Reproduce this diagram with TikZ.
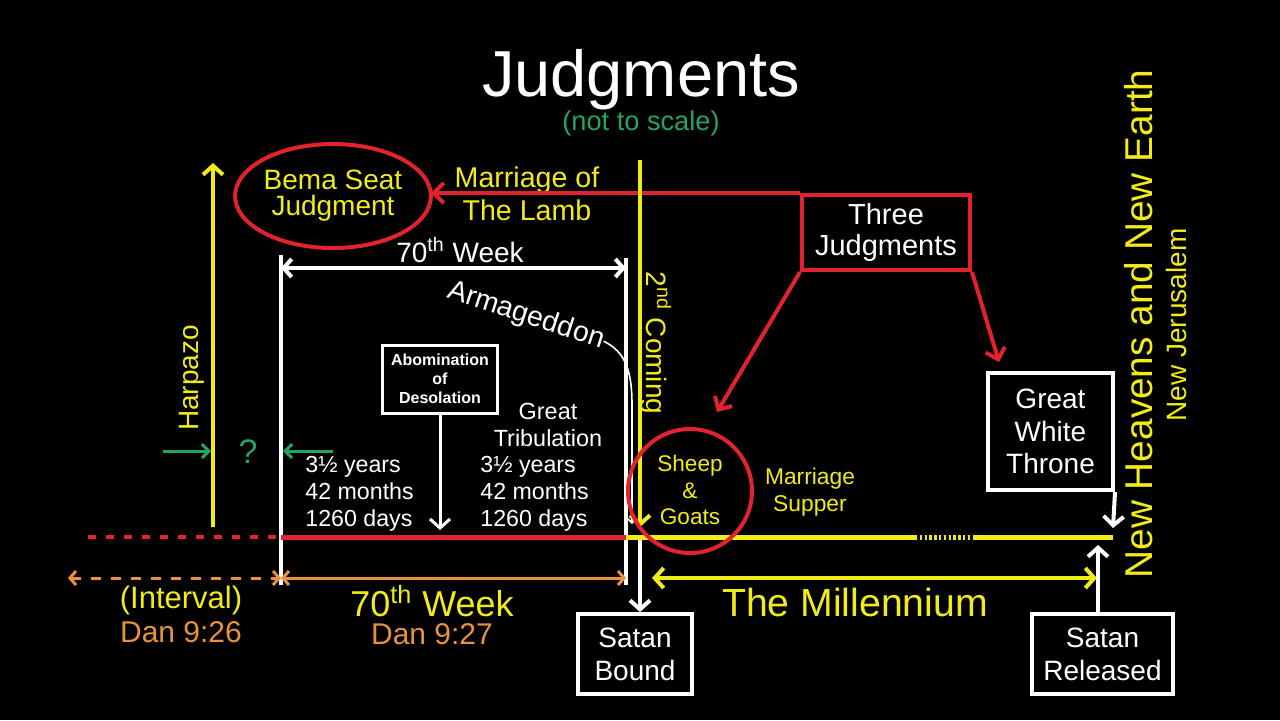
\documentclass[tikz,border=0pt]{standalone}
\usepackage{fontspec}
\setmainfont{Liberation Sans}
\usetikzlibrary{arrows.meta,shapes.geometric}
\definecolor{Yc}{RGB}{242,236,22}
\definecolor{Rc}{RGB}{226,34,44}
\definecolor{Gc}{RGB}{34,165,95}
\definecolor{Oc}{RGB}{232,145,62}
\newcommand\setfs[2]{\fontsize{#1}{#2}\selectfont}
\begin{document}
\begin{tikzpicture}[x=0.5pt,y=-0.5pt,
  txt/.style={inner sep=0pt,align=center},
  wbox/.style={draw=white,line width=2pt,rectangle,inner sep=0pt,align=center,text=white},
  yln/.style={draw=Yc,line width=2pt},
  yarr/.style={draw=Yc,line width=2pt,-{Straight Barb[length=4.5pt,width=10pt]}},
  ydarr/.style={draw=Yc,line width=2pt,{Straight Barb[length=4.5pt,width=10pt]}-{Straight Barb[length=4.5pt,width=10pt]}},
  warr/.style={draw=white,line width=2pt,-{Straight Barb[length=4.5pt,width=10pt]}},
  wdarr/.style={draw=white,line width=2pt,{Straight Barb[length=4pt,width=9pt]}-{Straight Barb[length=4pt,width=9pt]}},
  rarr/.style={draw=Rc,line width=2pt,-{Straight Barb[length=5pt,width=10pt]}},
  garr/.style={draw=Gc,line width=1.5pt,-{Straight Barb[length=3.5pt,width=7pt]}},
  oarr/.style={draw=Oc,line width=1.5pt,{Straight Barb[length=3pt,width=7pt]}-{Straight Barb[length=3pt,width=7pt]}}
]
\fill[black] (0,0) rectangle (1280,720);
\useasboundingbox (0,0) rectangle (1280,720);

% title
\node[txt,text=white,font=\setfs{32.5}{36}] (title) at (641,80) {Judgments};
\node[txt,text=Gc,font=\setfs{13.6}{16}] (scale) at (641,123) {(not to scale)};

% coordinates
\coordinate (hzB) at (213,527);
\coordinate (hzT) at (213,163);
\coordinate (scT) at (640,160);
\coordinate (scB) at (640,527);
\coordinate (wLT) at (281,255);
\coordinate (wLB) at (281,585);
\coordinate (wRT) at (626,258);
\coordinate (wRB) at (626,585);
\coordinate (tlA) at (88,537);
\coordinate (tlB) at (281,537);
\coordinate (tlC) at (626,537);
\coordinate (tlD) at (915,537);
\coordinate (tlE) at (975,537);
\coordinate (tlF) at (1113,537);
\coordinate (oA) at (68,578);
\coordinate (oB) at (281,578);
\coordinate (oC) at (626,578);
\coordinate (mA) at (652,578);
\coordinate (mB) at (1097,578);
\coordinate (wk1) at (281,268);
\coordinate (wk2) at (626,268);
\coordinate (g1a) at (163,451);
\coordinate (g1b) at (211,451);
\coordinate (g2a) at (333,451);
\coordinate (g2b) at (283,451);
\coordinate (sgTip) at (717,412);
\coordinate (gwTip) at (999,362);
\coordinate (abTip) at (440,530);
\coordinate (bdTop) at (640,540);
\coordinate (relTip) at (1098,545);
\coordinate (gwEnd) at (1113,528);
\coordinate (armEnd) at (632,524);

% nodes
\node[ellipse,draw=Rc,line width=2pt,minimum width=88pt,minimum height=52pt,inner sep=0pt,outer sep=0pt,
      text=Yc,align=center,font=\setfs{14}{13}] (bema) at (333,196) {Bema Seat\\Judgment};
\node[rectangle,draw=Rc,line width=2pt,minimum width=84pt,minimum height=37.5pt,inner sep=0pt,
      text=white,align=center,font=\setfs{14.5}{15.5}] (tj) at (886,232.5) {Three\\Judgments};
\node[txt,text=Yc,font=\setfs{14.3}{16.5}] (lamb) at (527,194) {Marriage of\\The Lamb};
\node[txt,text=Yc,rotate=90,font=\setfs{14}{16}] (harp) at (192,378) {Harpazo};
\node[txt,text=Gc,font=\setfs{17}{20}] (q) at (248,452) {?};
\node[txt,text=Yc,rotate=-90,font=\setfs{14}{16}] (second) at (656,343) {2\textsuperscript{nd} Coming};
\node[txt,text=white,font=\setfs{14}{16}] (wk) at (460,250) {70\textsuperscript{th} Week};
\node[txt,text=white,rotate=-18,font=\setfs{14.2}{16}] (arm) at (526,316) {Armageddon};
\node[wbox,line width=1.5pt,minimum width=57.5pt,minimum height=34pt,font=\bfseries\setfs{8}{9.5}] (abom) at (440,379) {Abomination\\of\\Desolation};
\node[txt,text=white,font=\setfs{11.7}{13.5}] (gt) at (548,425) {Great\\Tribulation};
\node[txt,text=white,anchor=west,align=left,font=\setfs{11.6}{13.5}] (ya) at (305,494) {3½ years\\42 months\\1260 days};
\node[txt,text=white,anchor=west,align=left,font=\setfs{11.6}{13.5}] (yb) at (480,494) {3½ years\\42 months\\1260 days};
\node[txt,text=Yc,font=\setfs{11.3}{13.3}] (sgt) at (690,490) {Sheep\\\&\\Goats};
\node[txt,text=Yc,font=\setfs{11.4}{13.5}] (ms) at (810,492) {Marriage\\Supper};
\node[wbox,minimum width=62.5pt,minimum height=58.5pt,font=\setfs{14}{16.3}] (gwt) at (1050.5,431.5) {Great\\White\\Throne};
\node[wbox,minimum width=57pt,minimum height=40pt,font=\setfs{14}{16.5}] (sb) at (635,654) {Satan\\Bound};
\node[wbox,minimum width=70.5pt,minimum height=40pt,font=\setfs{14}{16.5}] (sr) at (1102.5,654) {Satan\\Released};
\node[txt,text=Yc,rotate=90,font=\setfs{19.4}{22}] (nh) at (1139,324) {New Heavens and New Earth};
\node[txt,text=Yc,rotate=90,font=\setfs{14}{16}] (nj) at (1176,325) {New Jerusalem};
\node[txt,text=Yc,font=\setfs{15.5}{18}] (intv) at (181,600) {(Interval)};
\node[txt,text=Oc,font=\setfs{15}{18}] (d26) at (181,632) {Dan 9:26};
\node[txt,text=Yc,font=\setfs{18}{20}] (wk70) at (432,601) {70\textsuperscript{th} Week};
\node[txt,text=Oc,font=\setfs{15}{18}] (d27) at (432,634) {Dan 9:27};
\node[txt,text=Yc,font=\setfs{19.6}{22}] (mil) at (855,602) {The Millennium};

% red connectors
\draw[rarr] (tj.north west) -- (bema.east |- tj.north west);
\draw[rarr] (tj.south west) -- (sgTip);
\draw[rarr] (tj.south east) -- (gwTip);

% vertical lines
\draw[yarr] (hzB) -- (hzT);
\draw[white,line width=2pt] (wLT) -- (wLB);
\draw[white,line width=2pt] (wRT) -- (wRB);
\draw[yarr] (scT) -- (scB);
\draw[wdarr] (wk1) -- (wk2);

% Armageddon pointer
\draw[white,line width=0.8pt,-{Straight Barb[length=2pt,width=4pt]}] (arm.east) .. controls (626,352) and (632,372) .. (632,405) -- (armEnd);

% green arrows
\draw[garr] (g1a) -- (g1b);
\draw[garr] (g2a) -- (g2b);

% abomination arrow
\draw[warr,line width=1.5pt] (abom.south) -- (abTip);

% timeline
\draw[Rc,line width=2pt,dash pattern=on 4pt off 5pt] (tlA) -- (tlB);
\draw[Rc,line width=2.5pt] (tlB) -- (tlC);
\draw[Yc,line width=2.5pt] (tlC) -- (tlD);
\draw[Yc,line width=2.5pt,dash pattern=on 1.2pt off 1.2pt] (tlD) -- (tlE);
\draw[Yc,line width=2.5pt] (tlE) -- (tlF);

% orange arrows
\draw[oarr,dash pattern=on 5pt off 5pt] (oA) -- (oB);
\draw[oarr] (oB) -- (oC);

% millennium
\draw[ydarr] (mA) -- (mB);

% satan arrows
\draw[warr] (bdTop) -- (bdTop |- sb.north);
\draw[warr] (relTip |- sr.north) -- (relTip);
\draw[warr] (gwt.south east) -- (gwEnd);

% sheep circle
\node[circle,draw=Rc,line width=2pt,minimum size=62pt,inner sep=0pt] (sheep) at (690,491) {};
\end{tikzpicture}
\end{document}
